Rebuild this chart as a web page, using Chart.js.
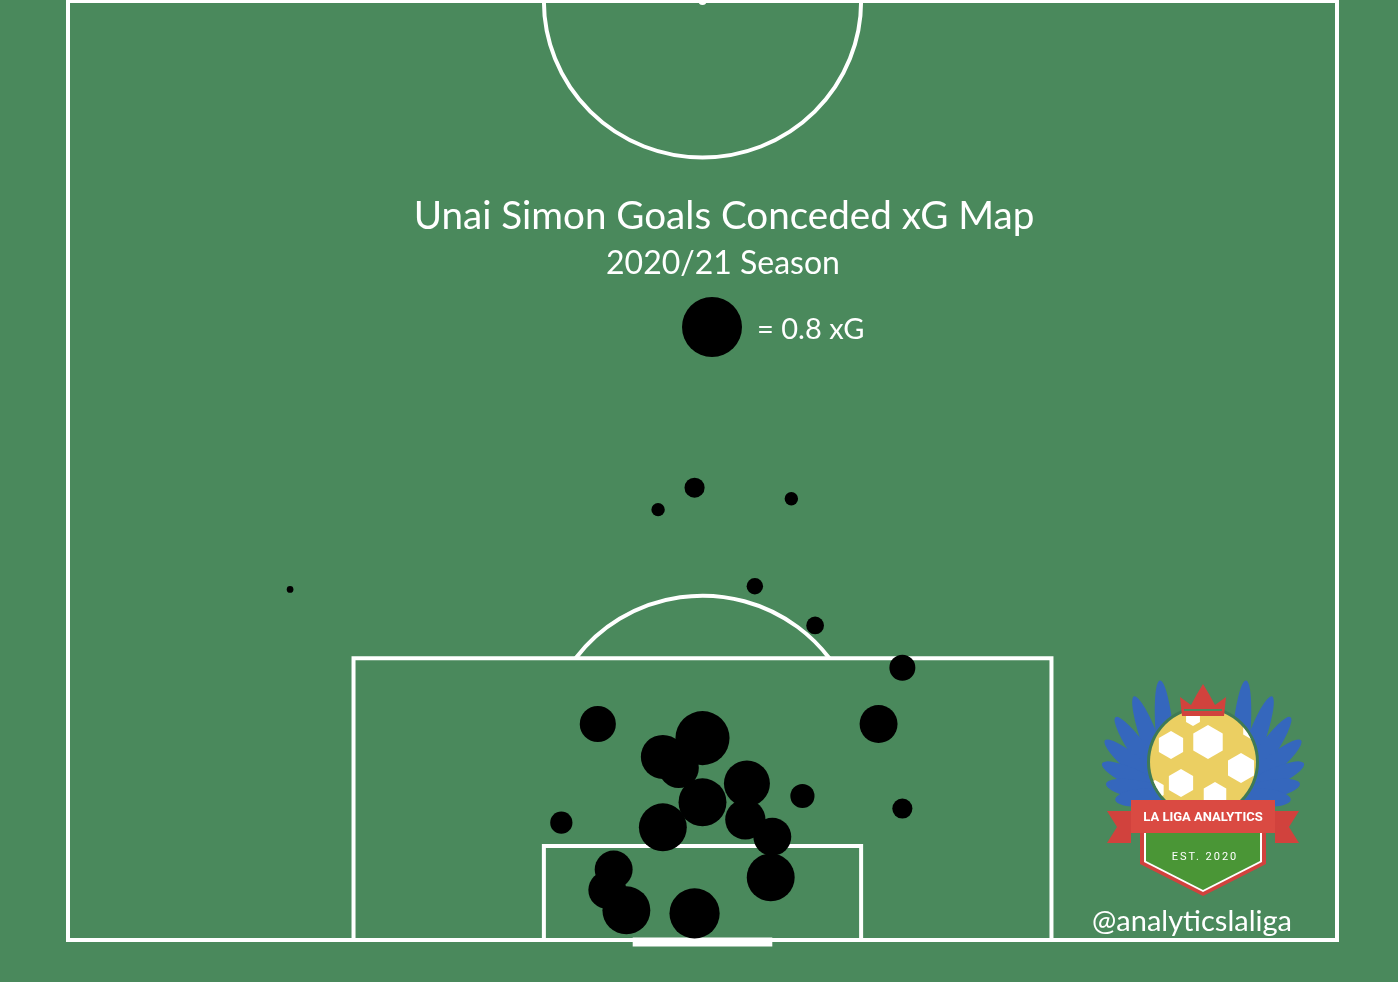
<!DOCTYPE html>
<html lang="en">
<head>
  <meta charset="UTF-8" />
  <title>Unai Simon Goals Conceded xG Map</title>
  <script src="https://cdn.jsdelivr.net/npm/chart.js"></script>
  <style>
    html, body { margin: 0; padding: 0; background: #4a895c; }
    #wrap { position: relative; width: 1398px; height: 982px; overflow: hidden; background: #4a895c; }
    #mapa { position: absolute; left: 0; top: 0; }
    .txt {
      position: absolute;
      color: #fff;
      font-family: Lato, "Open Sans", sans-serif;
      white-space: nowrap;
      line-height: 1;
      transform: translate(-50%, -50%);
    }
  </style>
</head>
<body>
<div id="wrap">
  <canvas id="mapa" width="1398" height="982"></canvas>

  <!-- textos por cima do campo -->
  <div class="txt" style="left:724px; top:214px; font-size:38.6px;">Unai Simon Goals Conceded xG Map</div>
  <div class="txt" style="left:723px; top:262px; font-size:32px;">2020/21 Season</div>
  <div class="txt" style="left:757px; top:327px; font-size:29px; transform:translate(0,-50%);">= 0.8 xG</div>
  <div class="txt" style="left:1192px; top:919px; font-size:29px;">@analyticslaliga</div>
</div>

<script>
  // chutes que resultaram em golo sofrido (x: 0-80 largura, y: distancia a linha de golo, 0-60)
  const shotX  = [39.5, 37.2, 45.6, 14.0, 43.3, 47.1, 52.6, 33.4, 51.1, 40.0, 37.5, 38.5, 40.0,
                  42.8, 42.7, 44.4, 37.5, 31.1, 46.3, 52.6, 34.4, 34.0, 35.2, 39.5, 44.3];
  const shotY  = [28.9, 27.5, 28.2, 22.4, 22.6, 20.1, 17.4, 13.8, 13.8, 12.9, 11.7, 11.0, 8.8,
                  10.0, 7.7, 6.6, 7.2, 7.5, 9.2, 8.4, 4.5, 3.2, 1.9, 1.7, 4.0];
  const shotXG = [0.09, 0.04, 0.04, 0.01, 0.06, 0.07, 0.15, 0.29, 0.32, 0.65, 0.43, 0.36, 0.51,
                  0.47, 0.36, 0.32, 0.51, 0.11, 0.13, 0.09, 0.32, 0.32, 0.51, 0.56, 0.51];

  const legendXG = 0.8;
  const keyRadius = 30;   // raio (px) da bola de referencia

  // area proporcional ao xG
  const radiusFor = xg => keyRadius * Math.sqrt(xg / legendXG);

  const pontos = shotX.map((v, i) => ({ x: v, y: shotY[i] }));

  // linhas do meio campo
  const campoPlugin = {
    id: 'campo',
    beforeDatasetsDraw(chart) {
      const { ctx, scales: { x, y } } = chart;
      const px = v => x.getPixelForValue(v);
      const py = v => y.getPixelForValue(v);
      ctx.save();
      ctx.strokeStyle = '#ffffff';
      ctx.lineWidth = 4;

      ctx.strokeRect(px(0), py(60), px(80) - px(0), py(0) - py(60));

      // grande area
      ctx.beginPath();
      ctx.moveTo(px(18), py(0)); ctx.lineTo(px(18), py(18));
      ctx.lineTo(px(62), py(18)); ctx.lineTo(px(62), py(0));
      ctx.stroke();

      // pequena area
      ctx.beginPath();
      ctx.moveTo(px(30), py(0)); ctx.lineTo(px(30), py(6));
      ctx.lineTo(px(50), py(6)); ctx.lineTo(px(50), py(0));
      ctx.stroke();

      const rx = px(10) - px(0), ry = py(0) - py(10);
      // circulo central
      ctx.beginPath();
      ctx.ellipse(px(40), py(60), rx, ry, 0, 0, Math.PI);
      ctx.stroke();
      // meia lua
      const a = Math.asin(6 / 10);
      ctx.beginPath();
      ctx.ellipse(px(40), py(12), rx, ry, 0, Math.PI + a, 2 * Math.PI - a);
      ctx.stroke();

      // baliza
      ctx.lineWidth = 9;
      ctx.beginPath();
      ctx.moveTo(px(35.6), py(0) + 2);
      ctx.lineTo(px(44.4), py(0) + 2);
      ctx.stroke();

      ctx.fillStyle = '#ffffff';
      ctx.beginPath();
      ctx.arc(px(40), py(60), 4, 0, 2 * Math.PI);
      ctx.fill();

      // bola da legenda
      ctx.fillStyle = '#000000';
      ctx.beginPath();
      ctx.arc(712, 327, radiusFor(legendXG), 0, 2 * Math.PI);
      ctx.fill();
      ctx.restore();
    },
    afterDraw(chart) {
      desenhaLogo(chart.ctx);
    }
  };

  function desenhaLogo(ctx) {
    const cx = 1203;
    ctx.save();
    // asas
    ctx.fillStyle = '#3567bd';
    [-1, 1].forEach(lado => {
      const pivX = cx + lado * 33, pivY = 795;
      for (let k = 0; k < 7; k++) {
        const th = (-95 - k * 15) * Math.PI / 180;
        const ang = lado < 0 ? th : Math.PI - th;
        const L = 115 - k * 10;
        ctx.save();
        ctx.translate(pivX + Math.cos(ang) * L / 2, pivY + Math.sin(ang) * L / 2);
        ctx.rotate(ang);
        ctx.beginPath();
        ctx.ellipse(0, 0, L / 2, 9, 0, 0, 2 * Math.PI);
        ctx.fill();
        ctx.restore();
      }
    });

    // bola
    ctx.fillStyle = '#3f7a55';
    ctx.beginPath(); ctx.arc(cx, 762, 56, 0, 2 * Math.PI); ctx.fill();
    ctx.save();
    ctx.beginPath(); ctx.arc(cx, 762, 53, 0, 2 * Math.PI); ctx.clip();
    ctx.fillStyle = '#ebcf62';
    ctx.fillRect(cx - 60, 700, 120, 120);
    ctx.fillStyle = '#ffffff';
    const hexs = [[cx + 5, 742, 17], [cx - 32, 745, 14], [cx + 38, 768, 15], [cx - 22, 783, 14],
                  [cx + 12, 795, 13], [cx - 48, 790, 10], [cx + 48, 730, 9], [cx - 10, 718, 8]];
    hexs.forEach(([hx, hy, r]) => {
      ctx.beginPath();
      for (let i = 0; i < 6; i++) {
        const t = Math.PI / 6 + i * Math.PI / 3;
        const X = hx + r * Math.cos(t), Y = hy + r * Math.sin(t);
        i ? ctx.lineTo(X, Y) : ctx.moveTo(X, Y);
      }
      ctx.closePath(); ctx.fill();
    });
    ctx.restore();

    // coroa
    ctx.fillStyle = '#d1423d';
    ctx.beginPath();
    ctx.moveTo(cx - 21, 716); ctx.lineTo(cx - 23, 697); ctx.lineTo(cx - 12, 705);
    ctx.lineTo(cx - 6, 694); ctx.lineTo(cx, 684); ctx.lineTo(cx + 6, 694);
    ctx.lineTo(cx + 12, 705); ctx.lineTo(cx + 23, 697); ctx.lineTo(cx + 21, 716);
    ctx.closePath(); ctx.fill();
    ctx.fillStyle = '#4a895c';
    ctx.fillRect(cx - 19, 709, 38, 2);

    // fitas
    ctx.fillStyle = '#d1423d';
    [-1, 1].forEach(lado => {
      const ex = cx + lado * 96, ix = cx + lado * 72;
      ctx.beginPath();
      ctx.moveTo(ix, 811); ctx.lineTo(ex, 811); ctx.lineTo(cx + lado * 86, 827);
      ctx.lineTo(ex, 843); ctx.lineTo(ix, 843); ctx.closePath(); ctx.fill();
    });

    // escudo
    ctx.beginPath();
    ctx.moveTo(cx - 63, 830); ctx.lineTo(cx - 63, 864); ctx.lineTo(cx, 896);
    ctx.lineTo(cx + 63, 864); ctx.lineTo(cx + 63, 830); ctx.closePath();
    ctx.fill();
    ctx.fillStyle = '#ffffff';
    ctx.beginPath();
    ctx.moveTo(cx - 59, 832); ctx.lineTo(cx - 59, 862); ctx.lineTo(cx, 892);
    ctx.lineTo(cx + 59, 862); ctx.lineTo(cx + 59, 832); ctx.closePath();
    ctx.fill();
    ctx.fillStyle = '#4a9636';
    ctx.beginPath();
    ctx.moveTo(cx - 57, 832); ctx.lineTo(cx - 57, 861); ctx.lineTo(cx, 890);
    ctx.lineTo(cx + 57, 861); ctx.lineTo(cx + 57, 832); ctx.closePath();
    ctx.fill();

    // faixa principal
    ctx.fillStyle = '#da4a42';
    ctx.fillRect(cx - 72, 800, 144, 33);

    ctx.fillStyle = '#ffffff';
    ctx.textAlign = 'center';
    ctx.textBaseline = 'middle';
    ctx.font = 'bold 13px Roboto, sans-serif';
    ctx.fillText('LA LIGA ANALYTICS', cx, 818);
    ctx.font = '11px Roboto, sans-serif';
    ctx.letterSpacing = '2px';
    ctx.fillText('EST. 2020', cx + 2, 857);
    ctx.restore();
  }

  new Chart(document.getElementById('mapa'), {
    type: 'scatter',
    data: {
      datasets: [{
        label: 'Goals conceded',
        data: pontos,
        backgroundColor: '#000000',
        borderWidth: 0,
        pointRadius: c => radiusFor(shotXG[c.dataIndex]),
        pointHoverRadius: c => radiusFor(shotXG[c.dataIndex])
      }]
    },
    options: {
      responsive: false,
      animation: false,
      events: [],
      layout: { autoPadding: false, padding: { left: 68, right: 61, top: 1, bottom: 42 } },
      plugins: {
        legend: { display: false },
        tooltip: { enabled: false }
      },
      scales: {
        x: { type: 'linear', min: 0, max: 80, display: false },
        y: { type: 'linear', min: 0, max: 60, display: false }
      }
    },
    plugins: [campoPlugin]
  });
</script>
</body>
</html>
